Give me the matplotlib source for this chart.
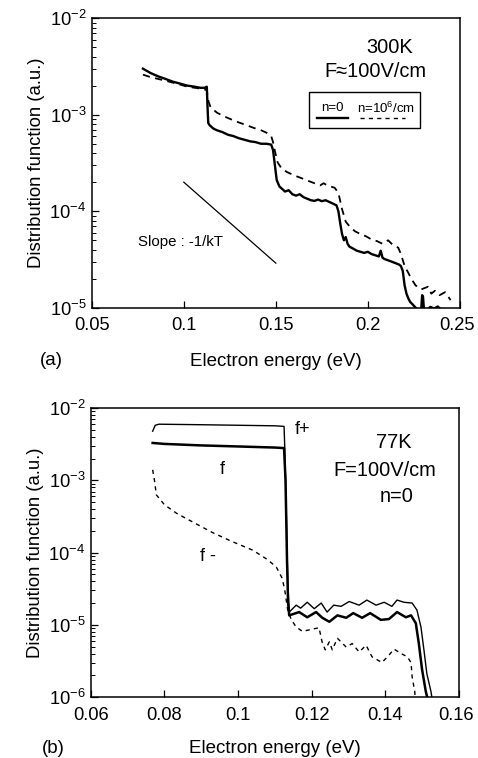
import numpy as np
import matplotlib
matplotlib.use("Agg")
import matplotlib.pyplot as plt
from matplotlib.patches import Rectangle
from matplotlib.transforms import ScaledTranslation
from matplotlib.ticker import FixedLocator, FuncFormatter, LogLocator, NullFormatter

plt.rcParams['font.family'] = ['Liberation Sans', 'DejaVu Sans']

# (a) 300K, F=100V/cm
a_n0_x = [0.0778, 0.082, 0.086, 0.090, 0.094, 0.098, 0.102, 0.106, 0.109, 0.1115, 0.1125,
          0.1129, 0.1133, 0.1140, 0.116, 0.118, 0.121, 0.124, 0.127, 0.130, 0.133, 0.136,
          0.139, 0.142, 0.145, 0.1475, 0.1485, 0.1495, 0.1505, 0.152, 0.1535, 0.155, 0.157,
          0.159, 0.161, 0.163, 0.165, 0.167, 0.169, 0.171, 0.173, 0.175, 0.177, 0.179, 0.181,
          0.183, 0.184, 0.185, 0.186, 0.187, 0.188, 0.189, 0.190, 0.192, 0.194, 0.196, 0.198,
          0.200, 0.202, 0.204, 0.206, 0.207, 0.208, 0.209, 0.211, 0.213, 0.215, 0.217, 0.218,
          0.219, 0.220, 0.221, 0.222, 0.223, 0.224, 0.225, 0.226, 0.227, 0.228, 0.229, 0.2295,
          0.230, 0.2305, 0.231, 0.232, 0.234, 0.236, 0.238, 0.240]
a_n0_y = [3.0e-3, 2.7e-3, 2.5e-3, 2.35e-3, 2.2e-3, 2.1e-3, 2.0e-3, 1.95e-3, 1.9e-3, 1.9e-3, 1.95e-3,
          1.2e-3, 8.2e-4, 7.8e-4, 7.2e-4, 6.9e-4, 6.6e-4, 6.2e-4, 6.0e-4, 5.7e-4, 5.5e-4, 5.3e-4,
          5.2e-4, 5.0e-4, 5.0e-4, 4.9e-4, 4.3e-4, 3.0e-4, 2.1e-4, 1.8e-4, 1.7e-4, 1.6e-4, 1.65e-4,
          1.5e-4, 1.45e-4, 1.5e-4, 1.4e-4, 1.35e-4, 1.3e-4, 1.28e-4, 1.32e-4, 1.27e-4, 1.3e-4, 1.25e-4, 1.2e-4,
          1.15e-4, 1.0e-4, 7.5e-5, 5.8e-5, 5.0e-5, 5.4e-5, 4.6e-5, 4.3e-5, 4.1e-5, 3.9e-5, 3.8e-5, 3.7e-5,
          3.8e-5, 3.6e-5, 3.5e-5, 3.4e-5, 3.9e-5, 3.3e-5, 3.2e-5, 3.1e-5, 3.0e-5, 2.9e-5, 2.8e-5, 2.7e-5,
          2.4e-5, 1.7e-5, 1.4e-5, 1.25e-5, 1.15e-5, 1.1e-5, 1.05e-5, 1.0e-5, 0.95e-5, 0.9e-5, 0.95e-5, 1.35e-5,
          1.3e-5, 0.95e-5, 0.9e-5, 0.95e-5, 1.02e-5, 0.98e-5, 1.03e-5, 0.95e-5]

a_n6_x = [0.0778, 0.082, 0.086, 0.090, 0.094, 0.098, 0.102, 0.106, 0.110, 0.1125, 0.1133,
          0.1145, 0.118, 0.122, 0.126, 0.130, 0.134, 0.138, 0.142, 0.145, 0.1475, 0.1485, 0.1495,
          0.151, 0.153, 0.156, 0.160, 0.164, 0.168, 0.171, 0.174, 0.176, 0.178, 0.180, 0.182,
          0.184, 0.186, 0.188, 0.190, 0.193, 0.196, 0.199, 0.202, 0.205, 0.208, 0.211, 0.214,
          0.2165, 0.218, 0.220, 0.222, 0.2236, 0.226, 0.229, 0.2327, 0.2345, 0.2365, 0.239,
          0.242, 0.245]
a_n6_y = [2.6e-3, 2.45e-3, 2.35e-3, 2.25e-3, 2.15e-3, 2.05e-3, 1.95e-3, 1.9e-3, 1.85e-3, 1.8e-3, 1.4e-3,
          1.2e-3, 1.05e-3, 9.6e-4, 8.9e-4, 8.3e-4, 7.8e-4, 7.3e-4, 6.9e-4, 6.5e-4, 6.0e-4, 5.2e-4, 4.2e-4,
          3.2e-4, 2.8e-4, 2.55e-4, 2.35e-4, 2.2e-4, 2.05e-4, 1.95e-4, 1.85e-4, 1.95e-4, 1.85e-4, 1.8e-4, 1.75e-4,
          1.55e-4, 1.05e-4, 7.8e-5, 7.0e-5, 6.2e-5, 5.8e-5, 5.5e-5, 5.1e-5, 4.9e-5, 4.6e-5, 5.0e-5, 4.4e-5,
          4.2e-5, 3.6e-5, 2.7e-5, 2.3e-5, 2.0e-5, 1.7e-5, 1.55e-5, 1.65e-5, 1.4e-5, 1.5e-5, 1.35e-5,
          1.45e-5, 1.2e-5]

slope_x = [0.100, 0.150]
slope_y = [2.0e-4, 2.9e-5]

# (b) 77K, F=100V/cm, n=0
b_fp_x = [0.0768, 0.0775, 0.0785, 0.090, 0.100, 0.110, 0.1125, 0.1127, 0.1131, 0.1135, 0.1139,
          0.1158, 0.117, 0.1188, 0.1207, 0.1226, 0.1242, 0.126, 0.128, 0.1302, 0.1329, 0.135,
          0.1375, 0.1397, 0.1418, 0.1432, 0.1451, 0.1473, 0.1486, 0.1497, 0.1505, 0.1513,
          0.1524, 0.1528]
b_fp_y = [4.8e-3, 5.8e-3, 6.0e-3, 5.9e-3, 5.8e-3, 5.7e-3, 5.6e-3, 2.8e-3, 4.0e-4, 4.0e-5, 1.5e-5,
          1.87e-5, 1.7e-5, 2.05e-5, 1.67e-5, 2.0e-5, 1.5e-5, 1.87e-5, 1.8e-5, 2.1e-5, 1.87e-5, 2.2e-5,
          1.87e-5, 2.05e-5, 1.8e-5, 2.2e-5, 2.05e-5, 2.0e-5, 1.6e-5, 9.3e-6, 4.5e-6, 2.1e-6,
          1.2e-6, 0.9e-6]

b_f_x = [0.0768, 0.080, 0.090, 0.100, 0.110, 0.1125, 0.1129, 0.1133, 0.1136, 0.1139,
         0.1166, 0.1188, 0.1212, 0.1229, 0.1248, 0.127, 0.1294, 0.1313, 0.1337, 0.1359,
         0.1388, 0.141, 0.1432, 0.1456, 0.147, 0.1483, 0.1491, 0.150, 0.151, 0.1516]
b_f_y = [3.3e-3, 3.2e-3, 3.05e-3, 2.95e-3, 2.85e-3, 2.8e-3, 1.0e-3, 8.0e-5, 2.0e-5, 1.35e-5,
         1.5e-5, 1.27e-5, 1.5e-5, 1.25e-5, 1.1e-5, 1.35e-5, 1.25e-5, 1.45e-5, 1.25e-5, 1.45e-5,
         1.17e-5, 1.2e-5, 1.5e-5, 1.27e-5, 1.35e-5, 1.05e-5, 5.6e-6, 2.4e-6, 1.2e-6, 0.9e-6]

b_fm_x = [0.0768, 0.0773, 0.0778, 0.0800, 0.0833, 0.088, 0.093, 0.098, 0.104, 0.108, 0.1104,
          0.112, 0.1127, 0.1135, 0.1145, 0.1158, 0.1175, 0.1202, 0.122, 0.1229, 0.1237, 0.1248,
          0.1256, 0.127, 0.1294, 0.131, 0.1329, 0.1348, 0.1364, 0.1391, 0.141, 0.1424, 0.1443,
          0.146, 0.147, 0.1473, 0.148, 0.1482]
b_fm_y = [1.4e-3, 1.0e-3, 6.3e-4, 4.6e-4, 3.5e-4, 2.6e-4, 1.9e-4, 1.45e-4, 1.08e-4, 8.0e-5, 6.3e-5,
          4.4e-5, 3.0e-5, 1.6e-5, 1.17e-5, 9.3e-6, 8.1e-6, 8.7e-6, 9.1e-6, 5.6e-6, 4.5e-6, 5.8e-6,
          4.5e-6, 6.5e-6, 4.9e-6, 5.5e-6, 4.2e-6, 5.2e-6, 3.6e-6, 3.0e-6, 3.8e-6, 4.6e-6, 4.0e-6,
          3.6e-6, 3.0e-6, 1.9e-6, 1.2e-6, 0.9e-6]


def pow_fmt(v, pos):
    return r'$\mathregular{10^{%d}}$' % int(round(np.log10(v)))


def style_axes(ax, xticks, xlabels, ylim, xlabelpad):
    ax.set_yscale('log')
    ax.set_ylim(*ylim)
    ax.set_xlim(xticks[0], xticks[-1])
    ax.xaxis.set_major_locator(FixedLocator(xticks))
    ax.set_xticklabels(xlabels)
    ax.yaxis.set_major_locator(LogLocator(base=10))
    ax.yaxis.set_major_formatter(FuncFormatter(pow_fmt))
    ax.yaxis.set_minor_locator(LogLocator(base=10, subs=np.arange(2, 10)))
    ax.yaxis.set_minor_formatter(NullFormatter())
    ax.tick_params(which='major', direction='in', length=5, width=0.9, labelsize=13.2)
    ax.tick_params(axis='x', which='major', pad=7)
    ax.tick_params(axis='y', which='major', pad=4)
    ax.tick_params(which='minor', direction='in', length=3, width=0.7)
    for s in ax.spines.values():
        s.set_linewidth(1.1)
    ax.set_xlabel('Electron energy (eV)', fontsize=13.5, labelpad=xlabelpad)
    ax.set_ylabel('Distribution function (a.u.)', fontsize=13.3, labelpad=3)
    # keep the last x tick label inside the figure edge
    last = ax.get_xticklabels()[-1]
    last.set_transform(last.get_transform() + ScaledTranslation(-0.03, 0, fig.dpi_scale_trans))


fig = plt.figure(figsize=(4.78, 7.58), dpi=100)

# panel (a)
ax1 = fig.add_axes([0.192, 0.594, 0.770, 0.382])
ax1.plot(a_n0_x, a_n0_y, color='black', lw=1.7)
ax1.plot(a_n6_x, a_n6_y, color='black', lw=1.3, dashes=(4, 3))
ax1.plot(slope_x, slope_y, color='black', lw=0.9)
style_axes(ax1, [0.05, 0.1, 0.15, 0.2, 0.25], ['0.05', '0.1', '0.15', '0.2', '0.25'],
           (1e-5, 1e-2), 13)
ax1.text(0.0749, 4.8e-5, 'Slope : -1/kT', fontsize=10.8, va='center', ha='left')
ax1.text(0.81, 0.90, '300K', transform=ax1.transAxes, ha='center', va='center', fontsize=14.4)
ax1.text(0.77, 0.815, 'F\u2248100V/cm', transform=ax1.transAxes, ha='center', va='center',
         fontsize=14.4)

# legend box drawn by hand
ax1.add_patch(Rectangle((0.589, 0.621), 0.303, 0.124, transform=ax1.transAxes,
                        fill=False, lw=1.0, color='black'))
ax1.text(0.654, 0.69, 'n=0', transform=ax1.transAxes, ha='center', va='center', fontsize=9.5)
ax1.plot([0.611, 0.697], [0.655, 0.655], transform=ax1.transAxes, color='black', lw=1.7)
ax1.text(0.80, 0.69, r'n=10$\mathregular{^6}$/cm', transform=ax1.transAxes, ha='center',
         va='center', fontsize=9.5)
ax1.plot([0.73, 0.85], [0.655, 0.655], transform=ax1.transAxes, color='black', lw=1.0,
         dashes=(3, 3))
fig.text(0.083, 0.524, '(a)', fontsize=13.5, ha='left', va='center')

# panel (b)
ax2 = fig.add_axes([0.190, 0.0805, 0.770, 0.381])
ax2.plot(b_fp_x, b_fp_y, color='black', lw=1.0)
ax2.plot(b_f_x, b_f_y, color='black', lw=1.8)
ax2.plot(b_fm_x, b_fm_y, color='black', lw=1.0, dashes=(3, 3))
style_axes(ax2, [0.06, 0.08, 0.1, 0.12, 0.14, 0.16],
           ['0.06', '0.08', '0.1', '0.12', '0.14', '0.16'], (1e-6, 1e-2), 12)
ax2.text(0.1175, 5.0e-3, 'f+', fontsize=13, ha='center', va='center')
ax2.text(0.0958, 1.4e-3, 'f', fontsize=13, ha='center', va='center')
ax2.text(0.0917, 8.7e-5, 'f -', fontsize=13, ha='center', va='center')
ax2.text(0.1424, 3.4e-3, '77K', fontsize=14.4, ha='center', va='center')
ax2.text(0.140, 1.38e-3, 'F=100V/cm', fontsize=14.4, ha='center', va='center')
ax2.text(0.1432, 5.9e-4, 'n=0', fontsize=14.4, ha='center', va='center')
fig.text(0.088, 0.013, '(b)', fontsize=13.5, ha='left', va='center')

fig.savefig('out.png', dpi=100)
